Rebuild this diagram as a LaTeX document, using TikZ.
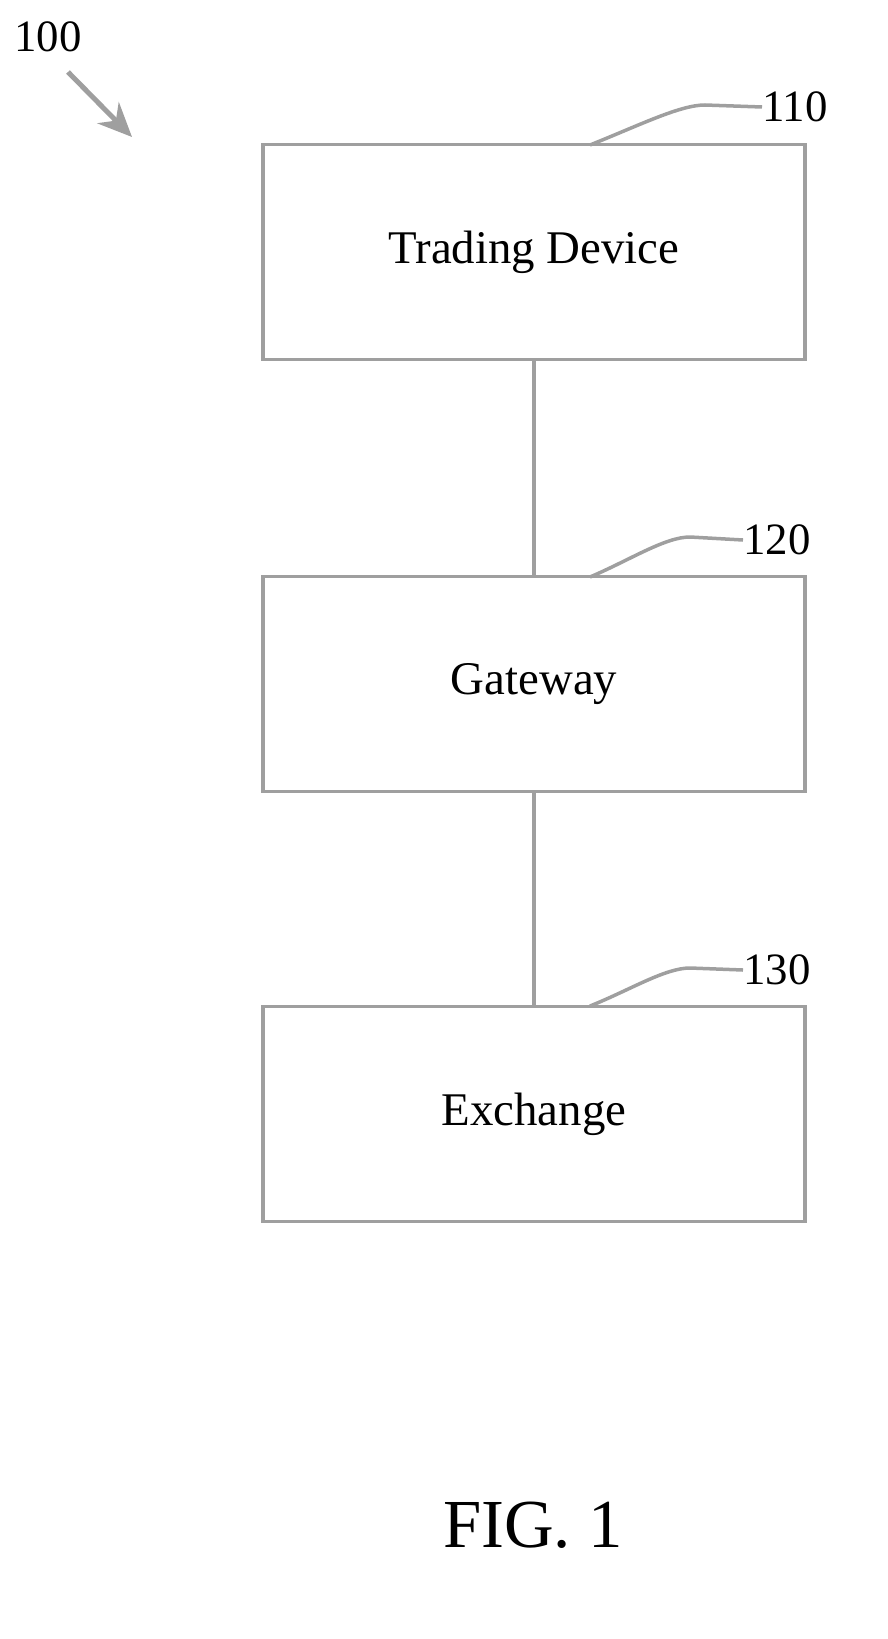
\documentclass[tikz,border=0pt]{standalone}
\usepackage{fontspec}
\usetikzlibrary{arrows.meta}
\setmainfont{Liberation Serif}
\begin{document}
\begin{tikzpicture}[x=1bp,y=-1bp,
  box/.style={draw=gray!75,line width=3.5bp,minimum width=542bp,minimum height=215bp,font=\fontsize{47}{52}\selectfont,inner sep=0},
  ln/.style={draw=gray!75,line width=3.5bp},
  lab/.style={font=\fontsize{45}{50}\selectfont,inner sep=0}]
\useasboundingbox (0,0) rectangle (887,1639);
\node[box] (td) at (534,252) {Trading Device};
\node[box] (gw) at (534,684) {Gateway};
\node[box] (ex) at (534,1114) {Exchange};
\draw[ln] (td.south) -- (gw.north);
\draw[ln] (gw.south) -- (ex.north);
\node[lab,anchor=west] (l110) at (762,107) {110};
\node[lab,anchor=west] (l120) at (743,540) {120};
\node[lab,anchor=west] (l130) at (743,970) {130};
\coordinate (a1) at (590,145);
\coordinate (a2) at (590,577);
\coordinate (a3) at (590,1006);
\draw[ln] (a1) .. controls (640,125) and (680,105) .. (705,105) -- (l110.west);
\draw[ln] (a2) .. controls (630,560) and (665,537) .. (690,537) -- (l120.west);
\draw[ln] (a3) .. controls (630,990) and (665,968) .. (690,968) -- (l130.west);
\node[lab] (l100) at (48,37) {100};
\coordinate (p1) at (68,72);
\coordinate (p2) at (132,137);
\draw[ln,line width=5bp,-{Stealth[length=34bp,width=30bp]}] (p1) -- (p2);
\node[font=\fontsize{69}{75}\selectfont] (fig) at (533,1525) {FIG. 1};
\end{tikzpicture}
\end{document}
